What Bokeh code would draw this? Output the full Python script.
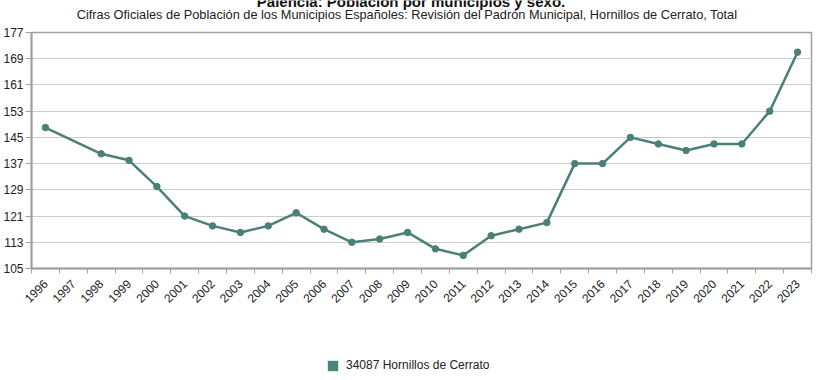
from bokeh.plotting import figure
from bokeh.layouts import column
from bokeh.models import Range1d, FixedTicker, Label, Legend, LegendItem
from bokeh.embed import file_html
from bokeh.resources import INLINE
from math import pi

# ---- data ----
tick_years = list(range(1996, 2024))
years = [1996, 1998, 1999, 2000, 2001, 2002, 2003, 2004, 2005, 2006, 2007, 2008,
         2009, 2010, 2011, 2012, 2013, 2014, 2015, 2016, 2017, 2018, 2019, 2020,
         2021, 2022, 2023]
population = [148, 140, 138, 130, 121, 118, 116, 118, 122, 117, 113, 114,
              116, 111, 109, 115, 117, 119, 137, 137, 145, 143, 141, 143,
              143, 153, 171]
y_ticks = [105, 113, 121, 129, 137, 145, 153, 161, 169, 177]
title_text = "Palencia: Población por municipios y sexo."
subtitle_text = ("Cifras Oficiales de Población de los Municipios Españoles: "
                 "Revisión del Padrón Municipal, Hornillos de Cerrato, Total")
series_name = "34087 Hornillos de Cerrato"

LINE_COLOR = "#4a8077"
LEGEND_COLOR = "#4a857c"
FONT = "Liberation Sans"
W = 821
HEAD_H = 24
MAIN_H = 306
FOOT_H = 50
FRAME_L, FRAME_R = 30, 811   # plot-area edges (frames are aligned in the column)

x_pos = [y - tick_years[0] + 0.5 for y in years]

# ---- header (titles) ----
head = figure(width=W, height=HEAD_H, output_backend="svg", toolbar_location=None,
              x_axis_type=None, y_axis_type=None,
              min_border_left=FRAME_L, min_border_right=W - FRAME_R,
              min_border_top=0, min_border_bottom=0,
              x_range=Range1d(FRAME_L, FRAME_R), y_range=Range1d(0, HEAD_H))
head.outline_line_color = None
head.grid.visible = False
head.add_layout(Label(x=406, y=HEAD_H - 13.5, text=subtitle_text, text_align="center",
                      text_baseline="alphabetic", text_font=FONT,
                      text_font_size="12.75px", text_color="#222222"))
head.add_layout(Label(x=410, y=HEAD_H - 1.0, text=title_text, text_align="center",
                      text_baseline="alphabetic", text_font=FONT,
                      text_font_size="15px", text_font_style="bold",
                      text_color="#111111"))

# ---- main chart ----
p = figure(width=W, height=MAIN_H, output_backend="svg", toolbar_location=None,
           x_range=Range1d(0, len(tick_years)), y_range=Range1d(y_ticks[0], y_ticks[-1]),
           min_border_left=FRAME_L, min_border_right=W - FRAME_R,
           min_border_top=32 - HEAD_H, min_border_bottom=HEAD_H + MAIN_H - 268)

p.outline_line_color = "#a0a0a0"
p.outline_line_width = 1.5

xa = p.xaxis[0]
xa.ticker = FixedTicker(ticks=[i + 0.5 for i in range(len(tick_years))],
                        minor_ticks=list(range(len(tick_years) + 1)))
xa.major_label_overrides = {i + 0.5: str(y) for i, y in enumerate(tick_years)}
xa.major_label_orientation = pi / 4
xa.major_tick_out = 0
xa.major_tick_in = 0
xa.minor_tick_out = 5
xa.minor_tick_in = 0
xa.minor_tick_line_color = "#a0a0a0"
xa.axis_line_color = "#a0a0a0"
xa.axis_line_width = 2
xa.major_label_text_font = FONT
xa.major_label_text_font_size = "12px"
xa.major_label_text_color = "#222222"
xa.major_label_standoff = 8

ya = p.yaxis[0]
ya.ticker = FixedTicker(ticks=y_ticks)
ya.major_tick_out = 6
ya.major_tick_in = 0
ya.minor_tick_line_color = None
ya.major_tick_line_color = "#a0a0a0"
ya.axis_line_color = "#a0a0a0"
ya.axis_line_width = 2
ya.major_label_text_font = FONT
ya.major_label_text_font_size = "12px"
ya.major_label_text_color = "#222222"
ya.major_label_standoff = 2

p.xgrid.visible = False
p.ygrid.ticker = FixedTicker(ticks=y_ticks)
p.ygrid.grid_line_color = "#cccccc"
p.ygrid.grid_line_width = 1

p.line(x_pos, population, line_color=LINE_COLOR, line_width=2.5)
p.scatter(x_pos, population, size=6.5, fill_color=LINE_COLOR, line_color=LINE_COLOR)

# ---- footer (legend) ----
foot = figure(width=W, height=FOOT_H, output_backend="svg", toolbar_location=None,
              x_axis_type=None, y_axis_type=None,
              min_border_left=FRAME_L, min_border_right=W - FRAME_R,
              min_border_top=0, min_border_bottom=0,
              x_range=Range1d(-1, 0), y_range=Range1d(0, 1))
foot.outline_line_color = None
foot.grid.visible = False
# legend proxy: same series, outside the footer's visible range
legend_glyph = foot.quad(left=x_pos, right=x_pos, bottom=population, top=population,
                         fill_color=LEGEND_COLOR, line_color=None)
legend = Legend(items=[LegendItem(label=series_name, renderers=[legend_glyph])],
                location=(325 - FRAME_L, 8),
                glyph_width=13, glyph_height=13,
                label_height=13, label_standoff=7, padding=0, margin=0,
                border_line_color=None, background_fill_alpha=0,
                label_text_font=FONT, label_text_font_size="12px",
                label_text_color="#222222")
foot.add_layout(legend)

layout = column(head, p, foot, spacing=0)
open("out.html", "w").write(file_html(layout, INLINE))
